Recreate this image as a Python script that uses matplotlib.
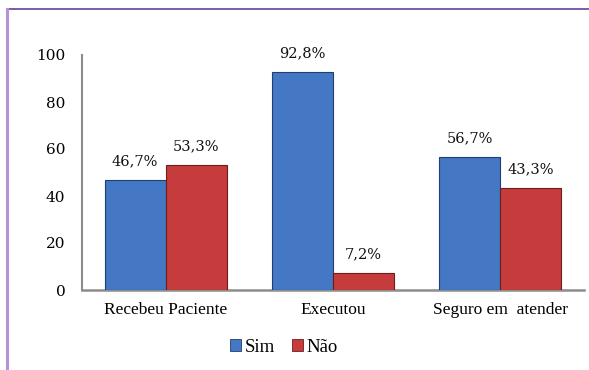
import matplotlib
matplotlib.use("Agg")
import matplotlib.pyplot as plt
import numpy as np
from matplotlib.lines import Line2D
from matplotlib.font_manager import FontProperties

categories = ["Recebeu Paciente", "Executou", "Seguro em  atender"]
sim = [46.7, 92.8, 56.7]
nao = [53.3, 7.2, 43.3]
series_names = ["Sim", "Não"]
yticks = [0, 20, 40, 60, 80, 100]

fig = plt.figure(figsize=(5.89, 3.70), dpi=100)
ax = fig.add_axes([82/589, 1-290/370, (584-82)/589, (290-55)/370])

x = np.arange(len(categories))
w = 0.365
blue = "#4478c4"
red = "#c63c3c"
b1 = ax.bar(x - w/2, sim, w, color=blue, edgecolor="#1f3f73", linewidth=0.8, label=series_names[0], zorder=3)
b2 = ax.bar(x + w/2, nao, w, color=red, edgecolor="#6e1c1c", linewidth=0.8, label=series_names[1], zorder=3)

for bars, vals in ((b1, sim), (b2, nao)):
    for r, v in zip(bars, vals):
        ax.annotate(f"{v:.1f}%".replace(".", ","), (r.get_x() + r.get_width()/2, v),
                    xytext=(0, 13.5), textcoords="offset points", ha="center", va="center",
                    fontsize=10.5, family="DejaVu Serif", color="#111111")

ax.set_xlim(-0.5, 2.5)
ax.set_ylim(0, 100)
ax.set_yticks(yticks)
ax.set_yticklabels([str(t) for t in yticks], family="DejaVu Serif", fontsize=11)
ax.set_xticks(x)
ax.set_xticklabels(categories, family="Liberation Serif", fontsize=12.5)
ax.tick_params(axis="y", length=0, pad=12)
ax.tick_params(axis="x", length=0, pad=9)
for s in ("top", "right"):
    ax.spines[s].set_visible(False)
ax.spines["left"].set_color("#8c8c8c")
ax.spines["bottom"].set_color("#8c8c8c")
ax.spines["left"].set_linewidth(1.5)
ax.spines["bottom"].set_linewidth(1.8)
ax.set_facecolor("none")

handles = [plt.Rectangle((0, 0), 1, 1, facecolor=blue, edgecolor="#1f3f73", linewidth=0.6),
           plt.Rectangle((0, 0), 1, 1, facecolor=red, edgecolor="#6e1c1c", linewidth=0.6)]
fig.legend(handles, series_names, loc="center", bbox_to_anchor=(284/589, 1-347/370),
           ncol=2, frameon=False, handlelength=0.6, handleheight=0.6, handletextpad=0.2,
           columnspacing=0.9, prop=FontProperties(family="Liberation Serif", size=13.5))

# outer frame
fig.add_artist(Line2D([7/589, 1.0], [1-9/370, 1-9/370], color="#6a3d9a", linewidth=1.2, transform=fig.transFigure))
fig.add_artist(Line2D([7/589, 7/589], [0, 1-9/370], color="#b394d6", linewidth=2.2, transform=fig.transFigure))

fig.savefig("out.png", dpi=100)
